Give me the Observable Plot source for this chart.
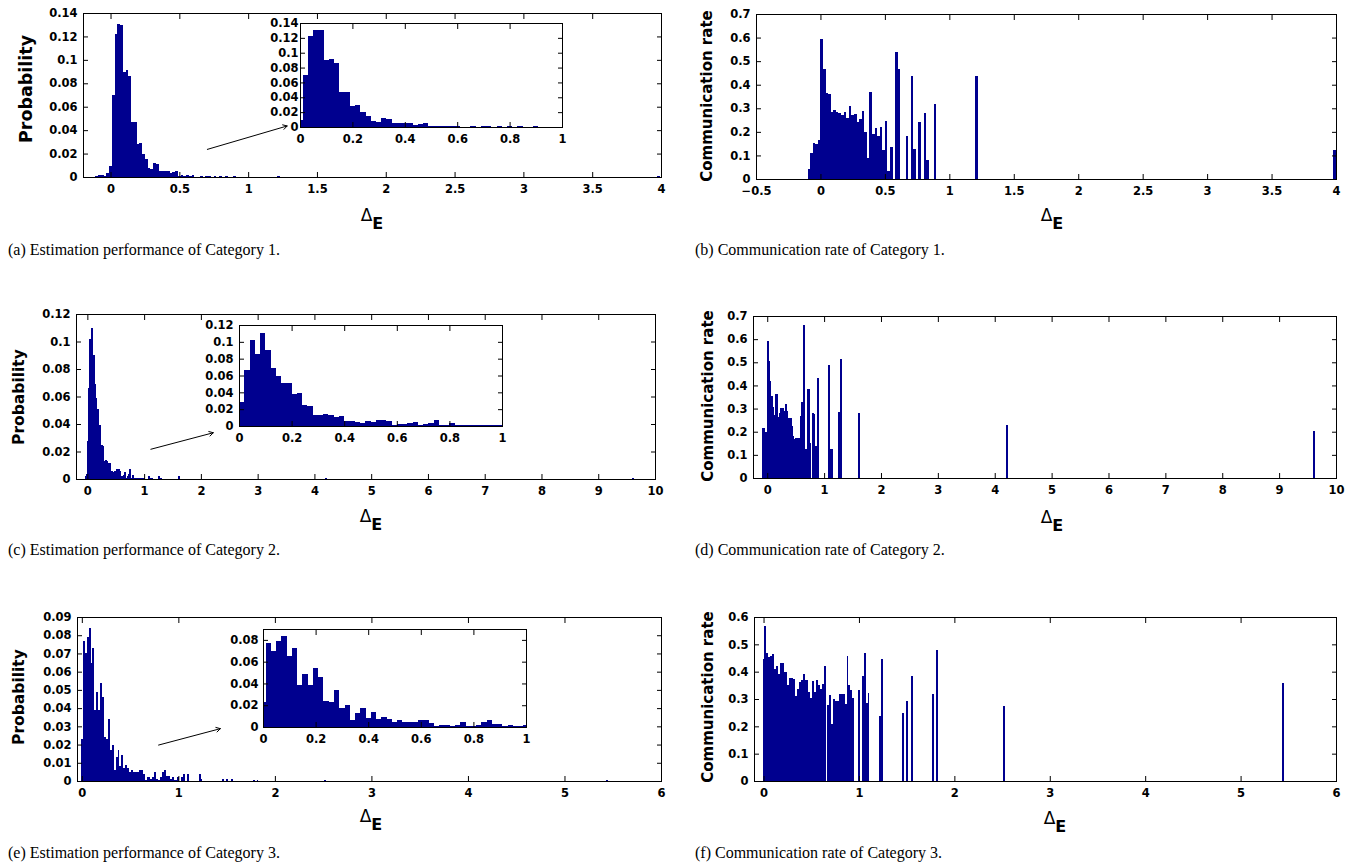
<!DOCTYPE html>
<html><head><meta charset="utf-8">
<script src="https://cdn.jsdelivr.net/npm/d3@7"></script>
<script src="https://cdn.jsdelivr.net/npm/@observablehq/plot@0.6"></script>
<style>
body{margin:0;background:#fff;}
#root{position:relative;width:1363px;height:868px;overflow:hidden;background:#fff;}
.cap{position:absolute;font-family:"Liberation Serif",serif;font-size:16px;line-height:16px;color:#000;white-space:nowrap;}
.ylab{position:absolute;font-family:"DejaVu Sans",sans-serif;font-weight:bold;white-space:nowrap;line-height:1;transform:translate(-50%,-50%) rotate(-90deg);color:#000;}
.xlab{position:absolute;font-family:"DejaVu Sans",sans-serif;font-size:17px;line-height:17px;transform:translate(-50%,-50%);white-space:nowrap;color:#000;}
.xlab span.sub{position:relative;top:8px;font-weight:bold;font-size:16px;}
</style>
</head><body>
<div id="root"></div>
<script>
// ---------- data ----------
const binWidth = 0.02;

// Category 1
const est1X = [-0.10,-0.08,-0.06,-0.04,-0.02,0.00,0.02,0.04,0.06,0.08,0.10,0.12,0.14,0.16,0.18,0.20,0.22,0.24,0.26,0.28,0.30,0.32,0.34,0.36,0.38,0.40,0.42,0.44,0.46,0.48,0.50,0.52,0.54,0.56,0.58,0.60,0.66,0.70,0.72,0.76,0.80,0.84,0.90,1.22,3.98];
const est1P = [0.001,0.002,0.002,0.001,0.003,0.009,0.070,0.122,0.131,0.130,0.090,0.091,0.086,0.047,0.047,0.028,0.029,0.020,0.015,0.008,0.007,0.012,0.011,0.005,0.005,0.005,0.005,0.003,0.004,0.005,0.001,0.002,0.001,0.002,0.001,0.002,0.001,0.001,0.001,0.001,0.001,0.001,0.001,0.001,0.0005];
const comm1X = [-0.09,-0.07,-0.05,-0.03,-0.01,0.01,0.03,0.05,0.07,0.09,0.11,0.13,0.15,0.17,0.19,0.21,0.23,0.25,0.27,0.29,0.31,0.33,0.35,0.37,0.39,0.41,0.43,0.45,0.47,0.49,0.51,0.53,0.55,0.59,0.61,0.67,0.71,0.73,0.77,0.81,0.83,0.89,1.21,3.99];
const comm1R = [0.044,0.112,0.153,0.150,0.167,0.595,0.468,0.366,0.361,0.286,0.294,0.283,0.280,0.270,0.283,0.257,0.311,0.272,0.274,0.243,0.256,0.290,0.198,0.090,0.371,0.191,0.215,0.184,0.222,0.122,0.246,0.033,0.137,0.539,0.468,0.184,0.437,0.126,0.243,0.281,0.082,0.320,0.437,0.124];

// Category 2
const est2X = [-0.03,-0.01,0.01,0.03,0.05,0.07,0.09,0.11,0.13,0.15,0.17,0.19,0.21,0.23,0.25,0.27,0.29,0.31,0.33,0.35,0.37,0.39,0.41,0.43,0.45,0.47,0.49,0.51,0.53,0.55,0.57,0.59,0.61,0.63,0.65,0.67,0.69,0.71,0.73,0.75,0.77,0.79,0.81,0.83,0.85,0.87,0.89,0.91,0.93,0.95,0.97,0.99,1.09,1.13,1.27,1.29,1.61,4.21,9.61];
const est2P = [0.002,0.004,0.028,0.066,0.102,0.085,0.110,0.090,0.069,0.059,0.051,0.051,0.038,0.039,0.025,0.024,0.013,0.013,0.014,0.013,0.011,0.012,0.006,0.006,0.005,0.004,0.006,0.005,0.007,0.007,0.006,0.001,0.002,0.002,0.003,0.005,0.001,0.002,0.004,0.007,0.001,0.001,0.003,0.001,0.001,0.001,0.001,0.001,0.001,0.001,0.001,0.001,0.002,0.001,0.002,0.001,0.002,0.001,0.0005];
const comm2X = [-0.07,-0.05,-0.03,-0.01,0.01,0.03,0.05,0.07,0.09,0.11,0.13,0.15,0.17,0.19,0.21,0.23,0.25,0.27,0.29,0.31,0.33,0.35,0.37,0.39,0.41,0.43,0.45,0.47,0.49,0.51,0.53,0.55,0.57,0.59,0.61,0.63,0.65,0.67,0.69,0.71,0.73,0.75,0.81,0.83,0.85,0.89,1.09,1.13,1.27,1.29,1.61,4.21,9.61];
const comm2R = [0.218,0.218,0.197,0.197,0.591,0.504,0.418,0.340,0.353,0.307,0.274,0.362,0.362,0.264,0.245,0.283,0.303,0.303,0.288,0.252,0.318,0.290,0.167,0.258,0.258,0.223,0.183,0.130,0.170,0.171,0.138,0.171,0.171,0.266,0.328,0.303,0.663,0.098,0.124,0.386,0.386,0.150,0.283,0.278,0.140,0.432,0.487,0.127,0.285,0.513,0.281,0.229,0.205];

// Category 3
const est3X = [0.00,0.02,0.04,0.06,0.08,0.10,0.12,0.14,0.16,0.18,0.20,0.22,0.24,0.26,0.28,0.30,0.32,0.34,0.36,0.38,0.40,0.42,0.44,0.46,0.48,0.50,0.52,0.54,0.56,0.58,0.60,0.62,0.64,0.66,0.68,0.70,0.72,0.74,0.76,0.78,0.80,0.82,0.84,0.86,0.88,0.90,0.92,0.94,0.96,0.98,1.00,1.04,1.06,1.10,1.22,1.24,1.46,1.50,1.56,1.78,1.82,2.52,5.44];
const est3P = [0.023,0.077,0.070,0.079,0.084,0.065,0.073,0.039,0.049,0.039,0.054,0.046,0.024,0.023,0.034,0.017,0.020,0.006,0.013,0.017,0.008,0.014,0.007,0.009,0.007,0.005,0.006,0.005,0.005,0.005,0.006,0.006,0.004,0.0005,0.002,0.002,0.001,0.002,0.005,0.001,0.0005,0.002,0.005,0.006,0.003,0.003,0.001,0.002,0.0005,0.0005,0.002,0.002,0.004,0.004,0.004,0.001,0.001,0.001,0.001,0.0005,0.0005,0.0005,0.0005];
const comm3X = [0.00,0.02,0.04,0.06,0.08,0.10,0.12,0.14,0.16,0.18,0.20,0.22,0.24,0.26,0.28,0.30,0.32,0.34,0.36,0.38,0.40,0.42,0.44,0.46,0.48,0.50,0.52,0.54,0.56,0.58,0.60,0.62,0.64,0.68,0.70,0.72,0.74,0.76,0.78,0.80,0.82,0.84,0.86,0.88,0.90,0.92,0.94,1.00,1.04,1.06,1.08,1.10,1.22,1.24,1.46,1.50,1.56,1.78,1.82,2.52,5.44];
const comm3R = [0.448,0.566,0.468,0.454,0.457,0.463,0.409,0.420,0.390,0.432,0.432,0.398,0.398,0.350,0.378,0.378,0.374,0.310,0.338,0.362,0.371,0.393,0.368,0.368,0.324,0.304,0.366,0.324,0.368,0.352,0.335,0.356,0.420,0.279,0.313,0.207,0.299,0.291,0.291,0.320,0.320,0.320,0.282,0.457,0.352,0.332,0.305,0.332,0.383,0.467,0.284,0.321,0.237,0.445,0.248,0.291,0.383,0.317,0.478,0.273,0.357];

// tick labels
const ticksA_x = [0,0.5,1,1.5,2,2.5,3,3.5,4];
const ticksA_y = [0,0.02,0.04,0.06,0.08,0.1,0.12,0.14];
const ticksB_x = [-0.5,0,0.5,1,1.5,2,2.5,3,3.5,4];
const ticksRate7 = [0,0.1,0.2,0.3,0.4,0.5,0.6,0.7];
const ticksC_x = [0,1,2,3,4,5,6,7,8,9,10];
const ticksC_y = [0,0.02,0.04,0.06,0.08,0.1,0.12];
const ticksE_x = [0,1,2,3,4,5,6];
const ticksE_y = [0,0.01,0.02,0.03,0.04,0.05,0.06,0.07,0.08,0.09];
const ticksEin_y = [0,0.02,0.04,0.06,0.08];
const ticksF_y = [0,0.1,0.2,0.3,0.4,0.5,0.6];
const ticksInset_x = [0,0.2,0.4,0.6,0.8,1];

// zoom-in arrows (data coordinates of each main panel)
const arrowA = [{x1:0.70, y1:0.024, x2:1.28, y2:0.044}];
const arrowC = [{x1:1.11, y1:0.022, x2:2.21, y2:0.034}];
const arrowE = [{x1:0.79, y1:0.020, x2:1.43, y2:0.029}];

const captions = [
  "(a) Estimation performance of Category 1.",
  "(b) Communication rate of Category 1.",
  "(c) Estimation performance of Category 2.",
  "(d) Communication rate of Category 2.",
  "(e) Estimation performance of Category 3.",
  "(f) Communication rate of Category 3."
];

// ---------- drawing ----------
const root = document.getElementById("root");
const barColor = "#00008f";
const fmt = d3.format("~g");

function panel(cfg) {
  const {fl, fr, ft, fb, inset, xDomain, yDomain, xTicks, yTicks, xs, ys, arrow, yPad = 11, widen = 0} = cfg;
  const mL = inset ? 40 : 60, mR = inset ? 8 : 15, mT = inset ? 7 : 10, mB = inset ? 24 : 30;
  const data = xs.map((x, i) => ({x, y: ys[i]}));
  const marks = [
    Plot.rect(data, {x1: d => d.x - binWidth / 2, x2: d => d.x + binWidth / 2, y1: 0, y2: "y",
      insetLeft: -widen, insetRight: -widen,
      fill: barColor, clip: true, shapeRendering: "crispEdges"}),
    Plot.frame({stroke: "black", strokeWidth: 1}),
    Plot.axisX(xTicks, {anchor: "bottom", tickSize: -5, tickPadding: 12, tickFormat: fmt, label: null}),
    Plot.axisX(xTicks, {anchor: "top", tickSize: -5, tickFormat: () => "", label: null}),
    Plot.axisY(yTicks, {anchor: "left", tickSize: -5, tickPadding: yPad, tickFormat: fmt, label: null}),
    Plot.axisY(yTicks, {anchor: "right", tickSize: -5, tickFormat: () => "", label: null})
  ];
  if (arrow) marks.push(Plot.arrow(arrow, {x1: "x1", y1: "y1", x2: "x2", y2: "y2", stroke: "black", strokeWidth: 1, headLength: 7}));
  const svg = Plot.plot({
    width: fr - fl + mL + mR, height: fb - ft + mT + mB,
    marginLeft: mL, marginRight: mR, marginTop: mT, marginBottom: mB,
    x: {domain: xDomain, label: null},
    y: {domain: yDomain, label: null},
    style: {fontFamily: "DejaVu Sans, sans-serif", fontWeight: "bold", fontSize: "11.5px", color: "black", background: "transparent", overflow: "visible"},
    marks
  });
  svg.style.position = "absolute";
  svg.style.left = (fl - mL) + "px";
  svg.style.top = (ft - mT) + "px";
  svg.style.maxWidth = "none";
  root.appendChild(svg);
}

function yLabel(text, x, y, size) {
  const d = document.createElement("div");
  d.className = "ylab"; d.textContent = text;
  d.style.left = x + "px"; d.style.top = y + "px"; d.style.fontSize = size + "px";
  root.appendChild(d);
}
function xLabel(x, y) {
  const d = document.createElement("div");
  d.className = "xlab";
  d.innerHTML = "<span>\u0394</span><span class='sub'>E</span>";
  d.style.left = x + "px"; d.style.top = y + "px";
  root.appendChild(d);
}
function caption(text, x, y) {
  const d = document.createElement("div");
  d.className = "cap"; d.textContent = text;
  d.style.left = x + "px"; d.style.top = (y - 8) + "px";
  root.appendChild(d);
}

// (a)
panel({fl: 83, fr: 661, ft: 13, fb: 177, xDomain: [-0.2, 4], yDomain: [0, 0.14], xTicks: ticksA_x, yTicks: ticksA_y, xs: est1X, ys: est1P, arrow: arrowA});
panel({inset: true, yPad: 7, fl: 300, fr: 562, ft: 23, fb: 127, xDomain: [0, 1], yDomain: [0, 0.14], xTicks: ticksInset_x, yTicks: ticksA_y, xs: est1X, ys: est1P});
// (b)
panel({fl: 756, fr: 1336, ft: 14, fb: 179, xDomain: [-0.5, 4], yDomain: [0, 0.7], xTicks: ticksB_x, yTicks: ticksRate7, xs: comm1X, ys: comm1R});
// (c)
panel({widen: 0.45, fl: 76, fr: 655, ft: 314, fb: 479, xDomain: [-0.2, 10], yDomain: [0, 0.12], xTicks: ticksC_x, yTicks: ticksC_y, xs: est2X, ys: est2P, arrow: arrowC});
panel({inset: true, fl: 239, fr: 502, ft: 325, fb: 426, xDomain: [0, 1], yDomain: [0, 0.12], xTicks: ticksInset_x, yTicks: ticksC_y, xs: est2X, ys: est2P});
// (d)
panel({widen: 0.45, fl: 753, fr: 1336, ft: 316, fb: 478, xDomain: [-0.25, 10], yDomain: [0, 0.7], xTicks: ticksC_x, yTicks: ticksRate7, xs: comm2X, ys: comm2R});
// (e)
panel({fl: 77, fr: 661, ft: 617, fb: 781, xDomain: [-0.05, 6], yDomain: [0, 0.09], xTicks: ticksE_x, yTicks: ticksE_y, xs: est3X, ys: est3P, arrow: arrowE});
panel({inset: true, yPad: 10, fl: 263, fr: 526, ft: 629, fb: 727, xDomain: [0, 1], yDomain: [0, 0.09], xTicks: ticksInset_x, yTicks: ticksEin_y, xs: est3X, ys: est3P});
// (f)
panel({fl: 754, fr: 1336, ft: 617, fb: 781, xDomain: [-0.1, 6], yDomain: [0, 0.6], xTicks: ticksE_x, yTicks: ticksF_y, xs: comm3X, ys: comm3R});

// axis titles
yLabel("Probability", 27, 89, 17.5);
yLabel("Probability", 20, 397, 15.5);
yLabel("Probability", 20, 697, 15.5);
yLabel("Communication rate", 707, 96, 15);
yLabel("Communication rate", 708, 396, 15);
yLabel("Communication rate", 708, 697, 15);
xLabel(372, 215); xLabel(1052, 215);
xLabel(371, 516); xLabel(1052, 517);
xLabel(371, 816); xLabel(1055, 818);

// captions
caption(captions[0], 8, 250); caption(captions[1], 695, 250);
caption(captions[2], 8, 550); caption(captions[3], 695, 550);
caption(captions[4], 8, 853); caption(captions[5], 695, 853);
</script>
</body></html>
